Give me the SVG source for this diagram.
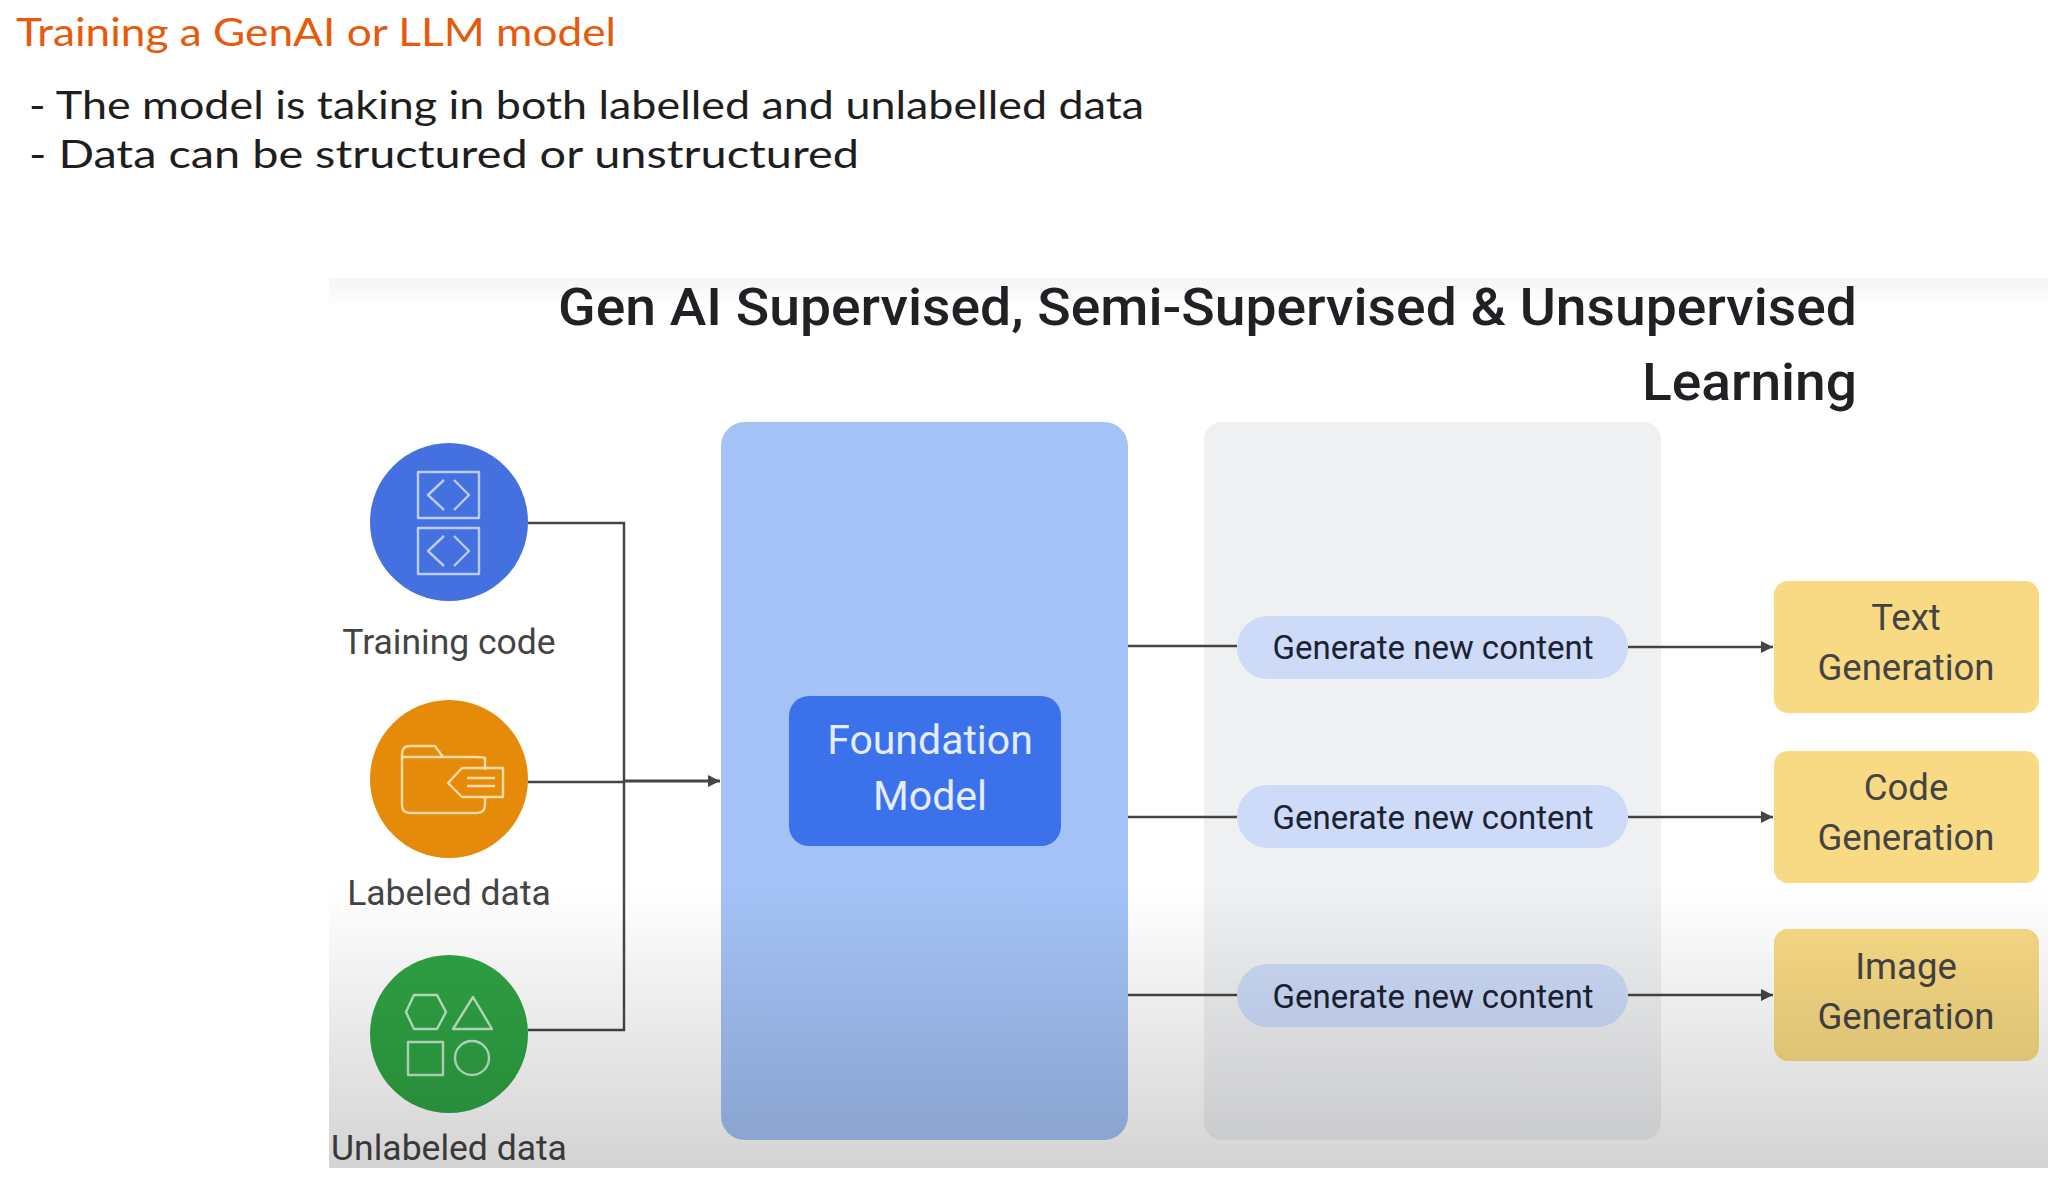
<svg xmlns="http://www.w3.org/2000/svg" width="2068" height="1186" viewBox="0 0 2068 1186">
<style>
text{font-family:Roboto,"Liberation Sans",sans-serif}
.hand{font-family:Lato,"Open Sans",sans-serif;font-size:38px}
.lab{font-size:35.5px;fill:#444;text-anchor:middle}
.gen{font-size:33px;fill:#1b2232;text-anchor:middle}
.out{font-size:36.5px;fill:#444;text-anchor:middle}
.fm{font-size:41px;fill:#e4ecfd;text-anchor:middle}
.pill{fill:#cddbf8}
.yel{fill:#f8da84}
.ic{fill:none;stroke-width:2.4;stroke-linejoin:round}
.wire{fill:none;stroke:#444;stroke-width:2.4}
</style>
<defs>
<marker id="arr" markerUnits="userSpaceOnUse" markerWidth="14" markerHeight="14" refX="13" refY="7" orient="auto"><path d="M1 1L13 7L1 13Z" fill="#444"/></marker>
<linearGradient id="top" x1="0" y1="0" x2="0" y2="1"><stop offset="0" stop-color="#000" stop-opacity=".04"/><stop offset="1" stop-color="#000" stop-opacity="0"/></linearGradient>
<linearGradient id="shade" x1="0" y1="0" x2="0" y2="1"><stop offset="0" stop-color="#000" stop-opacity="0"/><stop offset="1" stop-color="#000" stop-opacity=".17"/></linearGradient>
</defs>
<rect width="2068" height="1186" fill="#fff"/>
<rect x="329" y="278" width="1719" height="30" fill="url(#top)"/>
<g id="notes">
<text class="hand" x="16" y="46" fill="#e8590c" textLength="600" lengthAdjust="spacingAndGlyphs">Training a GenAI or LLM model</text>
<text class="hand" x="29" y="119" fill="#1e1e1e" textLength="1115" lengthAdjust="spacingAndGlyphs">- The model is taking in both labelled and unlabelled data</text>
<text class="hand" x="29" y="168" fill="#1e1e1e" textLength="830" lengthAdjust="spacingAndGlyphs">- Data can be structured or unstructured</text>
</g>
<g id="title">
<text x="558" y="325" font-size="51" font-weight="500" fill="#202124" textLength="1299" lengthAdjust="spacingAndGlyphs">Gen AI Supervised, Semi-Supervised &amp; Unsupervised</text>
<text x="1642" y="400" font-size="51" font-weight="500" fill="#202124" textLength="215" lengthAdjust="spacingAndGlyphs">Learning</text>
</g>
<g id="panel-model"><rect x="721" y="422" width="407" height="718" rx="24" fill="#a4c2f6"/></g>
<g id="panel-generate"><rect x="1204" y="422" width="457" height="718" rx="18" fill="#eff0f2"/></g>
<g id="connectors">
<path class="wire" d="M528 523H624V1030H528"/>
<path class="wire" d="M528 782H624"/>
<path class="wire" stroke-width="3" style="stroke-width:3" d="M624 781H720" marker-end="url(#arr)"/>
<path class="wire" d="M1128 646H1237"/>
<path class="wire" d="M1128 817H1237"/>
<path class="wire" d="M1128 995H1237"/>
<path class="wire" d="M1628 647H1773" marker-end="url(#arr)"/>
<path class="wire" d="M1628 817H1773" marker-end="url(#arr)"/>
<path class="wire" d="M1628 995H1773" marker-end="url(#arr)"/>
</g>
<g id="training-code">
<circle cx="449" cy="522" r="79" fill="#4470e0"/>
<g class="ic" stroke="#b9ccf5">
<rect x="418" y="472" width="61" height="46"/><path d="M444 480L428 495L444 510M454 480L469 495L454 510"/>
<rect x="418" y="528" width="61" height="46"/><path d="M444 536L428 551L444 566M454 536L469 551L454 566"/>
</g>
<text class="lab" x="449" y="654">Training code</text>
</g>
<g id="labeled-data">
<circle cx="449" cy="779" r="79" fill="#e58a09"/>
<g class="ic" stroke="#fbdca8">
<path d="M485 770V758Q485 757 475 757H402V754Q402 746 410 746H435L443 757M402 757V805Q402 813 410 813H477Q485 813 485 805V797"/>
<path d="M448 783L462 768H503V797H462Z"/><path d="M467 778H495M467 786H495"/>
</g>
<text class="lab" x="449" y="905">Labeled data</text>
</g>
<g id="unlabeled-data">
<circle cx="449" cy="1034" r="79" fill="#2fa344"/>
<g class="ic" stroke="#bfe6c4">
<path d="M406 1012L414 995H437L446 1012L437 1029H414Z"/><path d="M473 997L453 1029H492Z"/>
<rect x="408" y="1042" width="35" height="33"/><circle cx="472" cy="1058" r="17"/>
</g>
<text class="lab" x="449" y="1160">Unlabeled data</text>
</g>
<g id="foundation-model">
<rect x="789" y="696" width="272" height="150" rx="20" fill="#3b72ec"/>
<text class="fm" x="930" y="754">Foundation</text>
<text class="fm" x="930" y="810">Model</text>
</g>
<g id="generate-1"><rect class="pill" x="1237" y="616" width="391" height="63" rx="31"/><text class="gen" x="1433" y="659">Generate new content</text></g>
<g id="generate-2"><rect class="pill" x="1237" y="785" width="391" height="63" rx="31"/><text class="gen" x="1433" y="829">Generate new content</text></g>
<g id="generate-3"><rect class="pill" x="1237" y="964" width="391" height="63" rx="31"/><text class="gen" x="1433" y="1008">Generate new content</text></g>
<g id="text-generation"><rect class="yel" x="1774" y="581" width="265" height="132" rx="14"/><text class="out" x="1906" y="630">Text</text><text class="out" x="1906" y="680">Generation</text></g>
<g id="code-generation"><rect class="yel" x="1774" y="751" width="265" height="132" rx="14"/><text class="out" x="1906" y="800">Code</text><text class="out" x="1906" y="850">Generation</text></g>
<g id="image-generation"><rect class="yel" x="1774" y="929" width="265" height="132" rx="14"/><text class="out" x="1906" y="979">Image</text><text class="out" x="1906" y="1029">Generation</text></g>
<rect x="329" y="885" width="1719" height="283" fill="url(#shade)"/>
</svg>
